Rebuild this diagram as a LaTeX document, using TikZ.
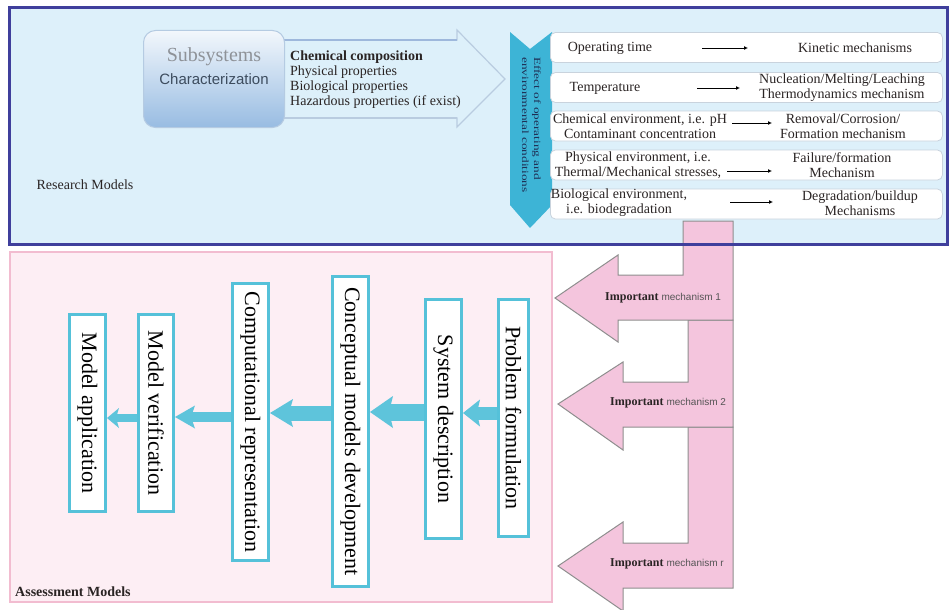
\documentclass[tikz,border=0pt]{standalone}
\usepackage{fontspec}
\setmainfont{Liberation Serif}
\newfontfamily\sansfam{Liberation Sans}
\usetikzlibrary{arrows.meta}

\definecolor{rmfill}{HTML}{DDF0FA}
\definecolor{rmborder}{HTML}{3F3F9C}
\definecolor{amfill}{HTML}{FDEEF4}
\definecolor{amborder}{HTML}{F2BCD0}
\definecolor{pinkfill}{HTML}{F4C5DD}
\definecolor{pinkline}{HTML}{8E8E8E}
\definecolor{chevcol}{HTML}{3DB4D6}
\definecolor{chevink}{HTML}{1F2F55}
\definecolor{boxcyan}{HTML}{55C1D9}
\definecolor{flowcyan}{HTML}{5EC4DB}
\definecolor{rowline}{HTML}{C9D3DD}
\definecolor{ink}{HTML}{2A2424}
\definecolor{subline}{HTML}{B5CBE2}
\definecolor{subtop}{HTML}{F2F7FC}
\definecolor{subbot}{HTML}{98BCE2}
\definecolor{subgray}{HTML}{8E9298}
\definecolor{charink}{HTML}{3D4C5E}
\definecolor{bigline}{HTML}{B9CCE0}
\definecolor{bigedge}{HTML}{9EB8DC}
\definecolor{mechgray}{HTML}{555555}

\begin{document}
\begin{tikzpicture}[x=1pt,y=-1pt,
  rowbox/.style={draw=rowline, line width=0.8pt, fill=white, rounded corners=5pt,
    minimum width=392pt, minimum height=30pt, anchor=west, inner sep=0pt},
  rowtext/.style={font=\fontsize{14}{15}\selectfont, text=ink, align=center, inner sep=0pt},
  cause/.style={-{Latex[length=4pt,width=4pt]}, line width=0.9pt, draw=black},
  stepbox/.style={draw=boxcyan, line width=3pt, fill=white, rotate=-90, inner sep=0pt,
    font=\fontsize{22}{24}\selectfont, text=black},
  flow/.style={draw=flowcyan},
  bentarrow/.style={fill=pinkfill, draw=pinkline, line width=1pt, line join=miter},
  mechtext/.style={inner sep=0pt, anchor=west, font=\fontsize{12}{13}\selectfont, text=ink}
]
\useasboundingbox (0,0) rectangle (950,610);

% ---------- Research models panel ----------
\fill[rmfill] (9,8) rectangle (947,244);

% wide outlined arrow carrying the subsystem properties
\draw[bigline, line width=1.2pt, fill=rmfill, line join=miter]
  (265,40) -- (457,40) -- (457,30) -- (505,79) -- (457,127) -- (457,118) -- (265,118) -- cycle;
\draw[bigedge, line width=2.5pt] (265,40) -- (457,40);
\draw[bigline, line width=2pt] (265,118) -- (457,118);

\node[draw=subline, line width=1pt, rounded corners=12pt, top color=subtop, bottom color=subbot,
  minimum width=141pt, minimum height=97pt] (sub) at (214,79) {};
\node[font=\fontsize{20}{22}\selectfont, text=subgray, inner sep=0pt] (subt) at (214,57) {Subsystems};
\node[font=\sansfam\fontsize{15}{17}\selectfont, text=charink, inner sep=0pt] (subc) at (214,79) {Characterization};

\node[anchor=north west, inner sep=0pt, align=left, font=\fontsize{14}{15}\selectfont, text=ink]
  (props) at (290,51) {\textbf{Chemical composition}\\Physical properties\\Biological properties\\Hazardous properties (if exist)};

\node[font=\fontsize{14}{15}\selectfont, text=ink, inner sep=0pt] (rm) at (85,185) {Research Models};

% chevron with the conditions heading
\fill[chevcol] (510,32) -- (530,49) -- (552,32) -- (552,205) -- (530,228) -- (510,205) -- cycle;
\node[rotate=-90, anchor=north west, inner sep=0pt, text=chevink, align=left,
  font=\fontsize{9.5}{12}\selectfont] (cond) at (541,57)
  {\scalebox{1.4}[1]{Effect of operating and}\\\scalebox{1.4}[1]{environmental conditions}};

% condition -> mechanism rows
\node[rowbox] (row1) at (550,47.5) {};
\node[rowbox] (row2) at (550,87.5) {};
\node[rowbox] (row3) at (550,126) {};
\node[rowbox] (row4) at (550,165) {};
\node[rowbox] (row5) at (550,204) {};

\node[rowtext] (c1) at (610,48) {Operating time};
\node[rowtext] (k1) at (855,48) {Kinetic mechanisms};
\coordinate (a1s) at (702,48); \coordinate (a1e) at (748,48);
\draw[cause] (a1s) -- (a1e);

\node[rowtext] (c2) at (605,88) {Temperature};
\node[rowtext] (k2) at (842,88) {Nucleation/Melting/Leaching\\Thermodynamics mechanism};
\coordinate (a2s) at (697,88); \coordinate (a2e) at (740,88);
\draw[cause] (a2s) -- (a2e);

\node[rowtext] (c3) at (640,126) {Chemical environment, i.e. pH\\Contaminant concentration};
\node[rowtext] (k3) at (843,126) {Removal/Corrosion/\\Formation mechanism};
\coordinate (a3s) at (732,123); \coordinate (a3e) at (772,123);
\draw[cause] (a3s) -- (a3e);

\node[rowtext] (c4) at (638,165) {Physical environment, i.e.\\Thermal/Mechanical stresses,};
\node[rowtext] (k4) at (842,165) {Failure/formation\\Mechanism};
\coordinate (a4s) at (727,171); \coordinate (a4e) at (772,171);
\draw[cause] (a4s) -- (a4e);

\node[rowtext] (c5) at (619,203) {Biological environment,\\i.e. biodegradation};
\node[rowtext] (k5) at (860,203) {Degradation/buildup\\Mechanisms};
\coordinate (a5s) at (730,202); \coordinate (a5e) at (773,202);
\draw[cause] (a5s) -- (a5e);

% ---------- Assessment models panel ----------
\draw[amborder, line width=2pt, fill=amfill] (10,252) rectangle (552,602);
\node[anchor=west, inner sep=0pt, font=\fontsize{14}{15}\selectfont\bfseries, text=ink] (am) at (15,592) {Assessment Models};

\node[stepbox, minimum width=237pt, minimum height=30pt] (pf) at (513.5,418) {Problem formulation};
\node[stepbox, minimum width=239pt, minimum height=36pt] (sd) at (443.5,419) {System description};
\node[stepbox, minimum width=310pt, minimum height=36pt] (cm) at (350.5,431.5) {Conceptual models development};
\node[stepbox, minimum width=277pt, minimum height=36pt] (cr) at (250.5,422) {Computational representation};
\node[stepbox, minimum width=197pt, minimum height=35pt] (mv) at (156,413) {Model verification};
\node[stepbox, minimum width=197pt, minimum height=36pt] (ma) at (87.5,413) {Model application};

\draw[flow, line width=13pt, -{Stealth[length=17pt,width=27pt,inset=3pt,line width=0pt]}]
  (pf.south |- 0,413) -- (sd.north |- 0,413);
\draw[flow, line width=17pt, -{Stealth[length=23pt,width=32pt,inset=4pt,line width=0pt]}]
  (sd.south |- 0,412) -- (cm.north |- 0,412);
\draw[flow, line width=15pt, -{Stealth[length=23pt,width=28pt,inset=4pt,line width=0pt]}]
  (cm.south |- 0,413) -- (cr.north |- 0,413);
\draw[flow, line width=10pt, -{Stealth[length=20pt,width=23pt,inset=4pt,line width=0pt]}]
  (cr.south |- 0,417) -- (mv.north |- 0,417);
\draw[flow, line width=8pt, -{Stealth[length=12pt,width=20pt,inset=3pt,line width=0pt]}]
  (mv.south |- 0,418) -- (ma.north |- 0,418);

% ---------- bent arrows feeding the important mechanisms ----------
\draw[bentarrow] (688,427) -- (688,543) -- (623,543) -- (623,522) -- (558,566) -- (623,611)
  -- (623,588) -- (733,588) -- (733,427) -- cycle;
\draw[bentarrow] (688,320) -- (688,382) -- (623,382) -- (623,362) -- (558,404) -- (623,450)
  -- (623,427) -- (733,427) -- (733,320) -- cycle;
\draw[bentarrow] (683,221) -- (683,275) -- (618,275) -- (618,255) -- (555,298) -- (618,342)
  -- (618,320) -- (733,320) -- (733,221) -- cycle;

\node[mechtext] (m1) at (605,298) {\textbf{Important} {\sansfam\fontsize{10}{11}\selectfont\color{mechgray} mechanism 1}};
\node[mechtext] (m2) at (610,403) {\textbf{Important} {\sansfam\fontsize{10}{11}\selectfont\color{mechgray} mechanism 2}};
\node[mechtext] (m3) at (610,564) {\textbf{Important} {\sansfam\fontsize{10}{11}\selectfont\color{mechgray} mechanism r}};

% panel frame on top of the bent arrow stem
\draw[rmborder, line width=3pt] (9,8) rectangle (947,244);
\end{tikzpicture}
\end{document}
